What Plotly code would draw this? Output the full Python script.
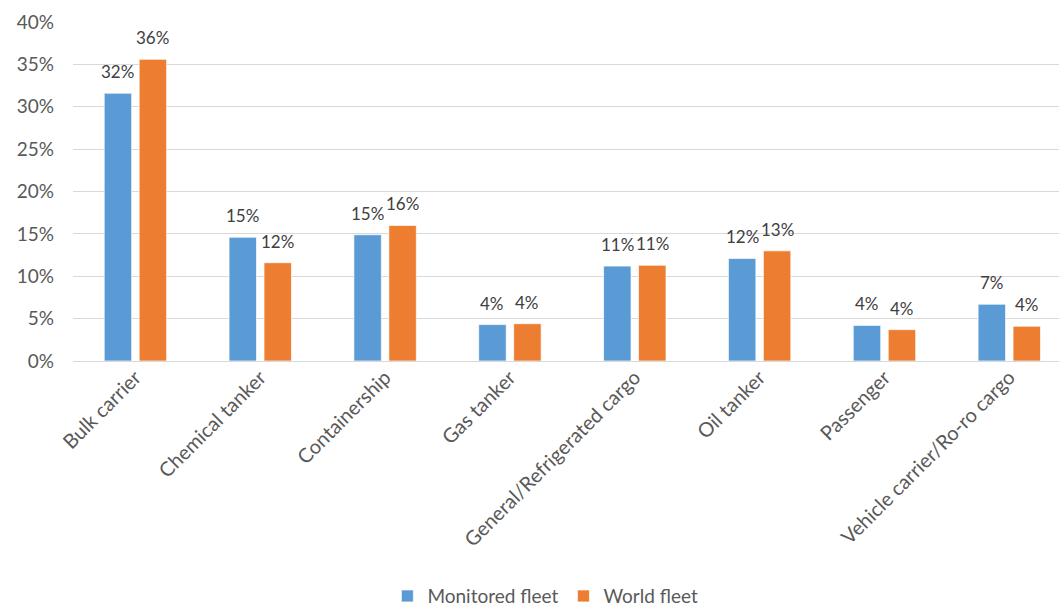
import plotly.graph_objects as go

# Ship types and fleet shares (fractions)
categories = [
    "Bulk carrier", "Chemical tanker", "Containership", "Gas tanker",
    "General/Refrigerated cargo", "Oil tanker", "Passenger",
    "Vehicle carrier/Ro-ro cargo",
]
monitored_fleet = [0.316, 0.146, 0.149, 0.043, 0.112, 0.121, 0.042, 0.067]
world_fleet = [0.356, 0.116, 0.160, 0.044, 0.113, 0.130, 0.037, 0.041]
series_names = ["Monitored fleet", "World fleet"]
y_ticks = [0, 0.05, 0.10, 0.15, 0.20, 0.25, 0.30, 0.35, 0.40]

FONT = "Lato"
colors = ["#5B9BD5", "#ED7D31"]
series = [monitored_fleet, world_fleet]

fig = go.Figure()
for name, vals, col in zip(series_names, series, colors):
    fig.add_trace(go.Bar(
        name=name,
        x=categories,
        y=vals,
        marker=dict(color=col, line=dict(color="rgba(255,255,255,0.7)", width=1)),
    ))

# Value labels above each bar (offset to the left/right bar of the group)
offsets = [-17.5, 17.5]
for vals, dx in zip(series, offsets):
    for cat, v in zip(categories, vals):
        fig.add_annotation(
            x=cat, y=v, xref="x", yref="y",
            text=f"{round(v * 100):.0f}%",
            showarrow=False, xshift=dx, yshift=9,
            yanchor="bottom", xanchor="center",
            font=dict(family=FONT, size=17, color="#404040"),
        )

fig.update_layout(
    width=1059, height=607,
    margin=dict(l=73, r=0, t=22, b=246),
    paper_bgcolor="white", plot_bgcolor="white",
    barmode="group", bargap=0.44, bargroupgap=0.214,
    font=dict(family=FONT, color="#595959"),
    showlegend=True,
    legend=dict(
        orientation="h", xref="container", yref="container",
        x=0.515, y=0.018, xanchor="center", yanchor="middle",
        font=dict(family=FONT, size=19, color="#595959"),
        itemwidth=30, tracegroupgap=0,
    ),
)
fig.update_xaxes(
    range=[-0.5, 7.398],
    tickangle=-45,
    tickfont=dict(family=FONT, size=20, color="#595959"),
    showgrid=False, showline=False, zeroline=False, ticks="",
)
fig.update_yaxes(
    range=[0, 0.40],
    tickvals=y_ticks,
    tickformat=".0%",
    tickfont=dict(family=FONT, size=19, color="#595959"),
    showgrid=True, gridcolor="#D9D9D9", gridwidth=1.3,
    zeroline=True, zerolinecolor="#D9D9D9", zerolinewidth=1.3,
    showline=False, ticks="", ticklabelstandoff=18,
)

fig.write_html("out.html")
